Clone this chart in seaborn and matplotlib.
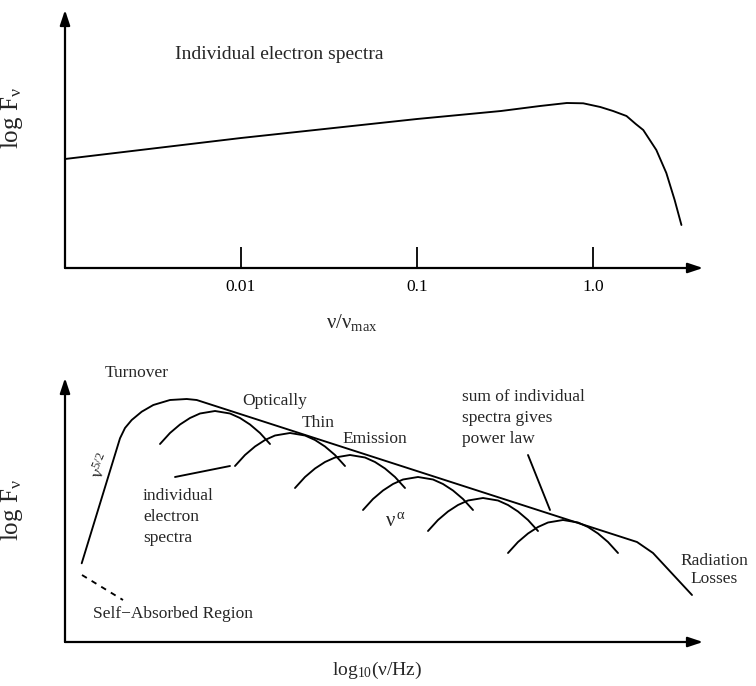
import numpy as np
import pandas as pd
import matplotlib
matplotlib.use("Agg")
import matplotlib.pyplot as plt
import seaborn as sns

# top panel: single electron spectrum, x = nu/nu_max, y = log F (arbitrary units)
top_x = [0.001, 0.01, 0.1, 0.3, 0.5, 0.71, 0.88, 1.1, 1.3, 1.55, 1.75, 1.93,
         2.29, 2.61, 2.91, 3.18]
top_y = [109, 130, 149, 157, 162, 165, 164.7, 161, 157, 152, 144, 138,
         118, 95, 68, 43]
top_ticks = [0.01, 0.1, 1.0]
top_tick_labels = ["0.01", "0.1", "1.0"]

# bottom panel: envelope (sum of spectra), arbitrary log units
env_x = [16.7, 55, 60, 66.7, 76.7, 88.3, 105, 121.7, 131.7, 572, 588, 627]
env_y = [78.7, 203.7, 214, 222, 230.3, 237, 242, 243, 242, 100, 89, 47]

# individual electron spectra: peak positions and the common arc shape
arc_peak_x = [150, 225, 285, 353, 418, 498]
arc_peak_y = [231, 209, 187, 165, 144, 122]
arc_dx = [-55, -45, -35, -25, -15, 0, 15, 25, 35, 45, 55]
arc_dy = [-33, -22, -13.5, -7, -2.5, 0, -2.5, -7, -13.5, -22, -33]

# annotation pointers and the dashed self-absorbed line
ptr_spec_x = [110, 165]
ptr_spec_y = [165, 176]
ptr_pow_x = [463, 485]
ptr_pow_y = [187, 132]
dash_x = [17, 58]
dash_y = [67, 42]

sns.set_theme(style="white")
plt.rcParams["font.family"] = ["Liberation Serif", "DejaVu Serif"]
plt.rcParams["mathtext.fontset"] = "custom"
plt.rcParams["mathtext.rm"] = "Liberation Serif"
plt.rcParams["mathtext.it"] = "Liberation Serif:italic"

W, H = 756, 686
fig = plt.figure(figsize=(W / 100, H / 100), dpi=100)
fig.patch.set_facecolor("white")

ax1 = fig.add_axes([65 / W, (H - 268) / H, 638 / W, 258 / H])
ax2 = fig.add_axes([65 / W, (H - 642) / H, 638 / W, 264 / H])

lw = 1.35
fs = 12.5


def arrow_axes(ax):
    for s in ax.spines.values():
        s.set_visible(False)
    style = "-|>,head_length=0.6,head_width=0.2"
    kw = dict(xycoords="axes fraction", textcoords="axes fraction",
              arrowprops=dict(arrowstyle=style, mutation_scale=15, lw=1.6,
                              color="black", shrinkA=0, shrinkB=0))
    ax.annotate("", xy=(1, 0), xytext=(0, 0), **kw)
    ax.annotate("", xy=(0, 1), xytext=(0, 0), **kw)


# ---- top panel ----
df_top = pd.DataFrame({"x": top_x, "y": top_y})
sns.lineplot(data=df_top, x="x", y="y", ax=ax1, color="black", lw=lw,
             sort=False, estimator=None)
ax1.set_xscale("log")
ax1.set_xlim(0.001, 10 ** 0.625)
ax1.set_ylim(0, 258)
ax1.set_xticks(top_ticks)
ax1.set_xticklabels(top_tick_labels)
ax1.minorticks_off()
ax1.tick_params(axis="x", direction="in", length=15, width=1.3, pad=8,
                labelsize=12.5, bottom=True, colors="black")
ax1.set_yticks([])
arrow_axes(ax1)
ax1.text(0.172, 0.826, "Individual electron spectra", transform=ax1.transAxes,
         fontsize=14, ha="left", va="center")
ax1.set_xlabel(r"$\mathrm{ν/ν_{max}}$", fontsize=15)
ax1.xaxis.set_label_coords(0.45, -0.172)
ax1.set_ylabel(r"log F$_{\mathrm{ν}}$", fontsize=18)
ax1.yaxis.set_label_coords(-0.062, 0.58)

# ---- bottom panel ----
df_env = pd.DataFrame({"x": env_x, "y": env_y})
sns.lineplot(data=df_env, x="x", y="y", ax=ax2, color="black", lw=lw,
             sort=False, estimator=None)
for px, py in zip(arc_peak_x, arc_peak_y):
    df_arc = pd.DataFrame({"x": np.add(px, arc_dx), "y": np.add(py, arc_dy)})
    sns.lineplot(data=df_arc, x="x", y="y", ax=ax2, color="black", lw=lw,
                 sort=False, estimator=None)
sns.lineplot(x=ptr_spec_x, y=ptr_spec_y, ax=ax2, color="black", lw=lw,
             sort=False, estimator=None)
sns.lineplot(x=ptr_pow_x, y=ptr_pow_y, ax=ax2, color="black", lw=lw,
             sort=False, estimator=None)
ax2.plot(dash_x, dash_y, color="black", lw=lw, ls=(0, (3, 3)))
ax2.set_xlim(0, 638)
ax2.set_ylim(0, 264)
ax2.set_xticks([])
ax2.set_yticks([])
arrow_axes(ax2)

ax2.text(40, 269, "Turnover", fontsize=fs, ha="left", va="center")
ax2.text(177, 241, "Optically", fontsize=fs, ha="left", va="center")
ax2.text(237, 219, "Thin", fontsize=fs, ha="left", va="center")
ax2.text(277, 203, "Emission", fontsize=fs, ha="left", va="center")
ax2.text(78, 125, "individual\nelectron\nspectra", fontsize=fs, ha="left",
         va="center", linespacing=1.45)
ax2.text(397, 224, "sum of individual\nspectra gives\npower law", fontsize=fs,
         ha="left", va="center", linespacing=1.45)
ax2.text(649, 72, "Radiation\nLosses", fontsize=fs, ha="center", va="center",
         multialignment="center", linespacing=1.15)
ax2.text(28, 28, "Self\u2212Absorbed Region", fontsize=fs, ha="left", va="center")
ax2.text(37, 176, r"$\mathrm{ν^{5/2}}$", fontsize=13, ha="center", va="center",
         rotation=68)
ax2.text(320, 120, r"$\mathrm{ν^{\,α}}$", fontsize=15, ha="left", va="center")
ax2.set_xlabel(r"$\mathrm{log_{10}(ν/Hz)}$", fontsize=14)
ax2.xaxis.set_label_coords(0.489, -0.066)
ax2.set_ylabel(r"log F$_{\mathrm{ν}}$", fontsize=18)
ax2.yaxis.set_label_coords(-0.062, 0.5)

fig.savefig("out.png", dpi=100, facecolor="white")
